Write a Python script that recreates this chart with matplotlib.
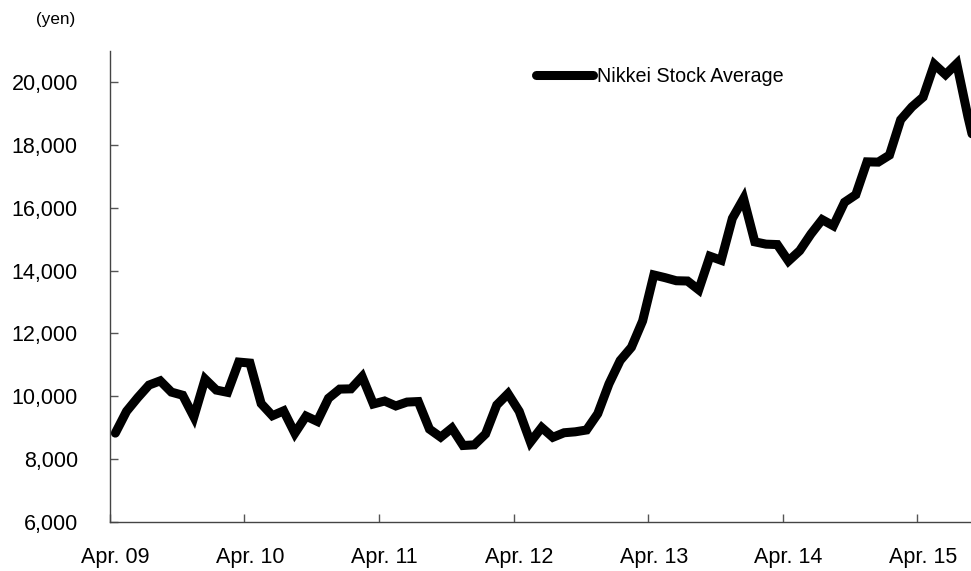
import matplotlib.pyplot as plt
import matplotlib.ticker as mticker
import numpy as np

plt.rcParams['font.family'] = ['Liberation Sans', 'DejaVu Sans']

# Nikkei Stock Average, month-end close, Apr. 2009 - Sep. 2015 (yen)
nikkei = [
    8828, 9523, 9958, 10357, 10492, 10133, 10034, 9345, 10546,          # 2009 Apr-Dec
    10198, 10126, 11089, 11057, 9768, 9382, 9537, 8824, 9369, 9202, 9937, 10229,   # 2010
    10237, 10624, 9755, 9850, 9693, 9816, 9833, 8955, 8700, 8988, 8434, 8455,      # 2011
    8802, 9723, 10083, 9521, 8543, 9007, 8695, 8840, 8870, 8928, 9446, 10395,      # 2012
    11139, 11559, 12398, 13861, 13775, 13677, 13668, 13389, 14456, 14328, 15662, 16291,  # 2013
    14915, 14841, 14828, 14304, 14632, 15162, 15621, 15425, 16174, 16414, 17460, 17451,  # 2014
    17674, 18798, 19207, 19520, 20563, 20236, 20585, 18890, 17388,      # 2015 Jan-Sep
]
year_labels = ['Apr. 09', 'Apr. 10', 'Apr. 11', 'Apr. 12', 'Apr. 13', 'Apr. 14', 'Apr. 15']

x = np.arange(len(nikkei))

fig = plt.figure(figsize=(9.71, 5.71), dpi=100)
ax = fig.add_axes([0.113, 0.0858, 0.887, 0.8256])

ax.plot(x, nikkei, color='black', linewidth=6.5, solid_joinstyle='miter',
        solid_capstyle='round', label='Nikkei Stock Average')

ax.set_xlim(-0.5, 76.27)
ax.set_ylim(6000, 21000)

# category-style axis: ticks on boundaries, labels centred on April
ax.set_xticks(np.arange(-0.5, 72, 12))
ax.set_xticklabels([])
ax.set_xticks(np.arange(0, 73, 12), minor=True)
ax.set_xticklabels(year_labels, minor=True)
ax.tick_params(axis='x', which='major', direction='in', length=6, width=1,
               color='#555555')
ax.tick_params(axis='x', which='minor', length=0, pad=18, labelsize=15.5)

ax.set_yticks(np.arange(6000, 20001, 2000))
ax.yaxis.set_major_formatter(mticker.StrMethodFormatter('{x:,.0f}'))
ax.tick_params(axis='y', direction='in', length=6, width=1, color='#555555',
               pad=23, labelsize=15.5)

for side in ['top', 'right']:
    ax.spines[side].set_visible(False)
for side in ['left', 'bottom']:
    ax.spines[side].set_color('#444444')
    ax.spines[side].set_linewidth(1)

ax.legend(loc='center left', bbox_to_anchor=(0.4945, 0.945), frameon=False,
          fontsize=14.2, handlelength=2.9, handletextpad=0.2, borderpad=0,
          borderaxespad=0)

fig.text(0.057, 0.965, '(yen)', fontsize=12.3, ha='center', va='center')

fig.savefig('out.png', dpi=100)
